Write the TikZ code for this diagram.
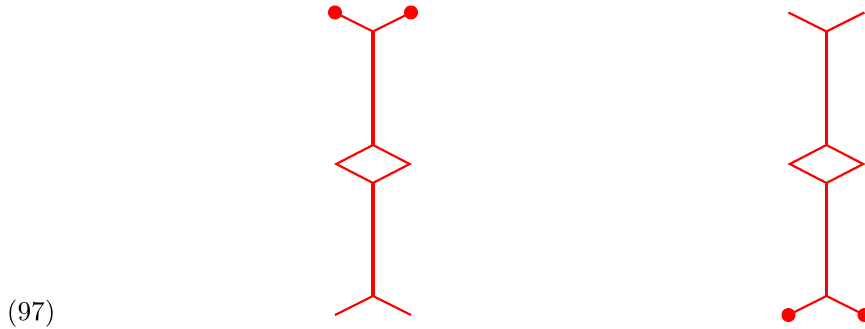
\documentclass[tikz,border=0pt]{standalone}
\tikzset{
    leg/.style={red, line width=0.8pt},
    stem/.style={red, line width=1.2pt},
    dot/.style={circle, fill=red, inner sep=0pt, minimum size=1.85mm},
}
\begin{document}
    \begin{tikzpicture}
        \clip (0,0) rectangle (11.382,4.329);
        \node[inner sep=0pt, scale=1.02] (num) at (0.41,0.195) {(97)};
        % left graph
        \coordinate (la) at (4.408,4.165);
        \coordinate (lb) at (5.408,4.165);
        \coordinate (lc) at (4.908,3.915);
        \coordinate (ld) at (4.908,2.421);
        \coordinate (le) at (4.425,2.171);
        \coordinate (lf) at (5.391,2.171);
        \coordinate (lg) at (4.908,1.921);
        \coordinate (lh) at (4.908,0.434);
        \coordinate (li) at (4.408,0.184);
        \coordinate (lj) at (5.408,0.184);
        \draw[leg] (la) -- (lc) -- (lb);
        \draw[stem] (lc) -- (ld);
        \draw[leg] (ld) -- (le) -- (lg) -- (lf) -- cycle;
        \draw[stem] (lg) -- (lh);
        \draw[leg] (li) -- (lh) -- (lj);
        \node[dot] (ldotl) at (la) {};
        \node[dot] (ldotr) at (lb) {};
        % right graph
        \coordinate (ra) at (10.375,4.165);
        \coordinate (rb) at (11.375,4.165);
        \coordinate (rc) at (10.875,3.915);
        \coordinate (rd) at (10.875,2.421);
        \coordinate (re) at (10.392,2.171);
        \coordinate (rf) at (11.358,2.171);
        \coordinate (rg) at (10.875,1.921);
        \coordinate (rh) at (10.875,0.434);
        \coordinate (ri) at (10.375,0.184);
        \coordinate (rj) at (11.375,0.184);
        \draw[leg] (ra) -- (rc) -- (rb);
        \draw[stem] (rc) -- (rd);
        \draw[leg] (rd) -- (re) -- (rg) -- (rf) -- cycle;
        \draw[stem] (rg) -- (rh);
        \draw[leg] (ri) -- (rh) -- (rj);
        \node[dot] (rdotl) at (ri) {};
        \node[dot] (rdotr) at (rj) {};
    \end{tikzpicture}
\end{document}
